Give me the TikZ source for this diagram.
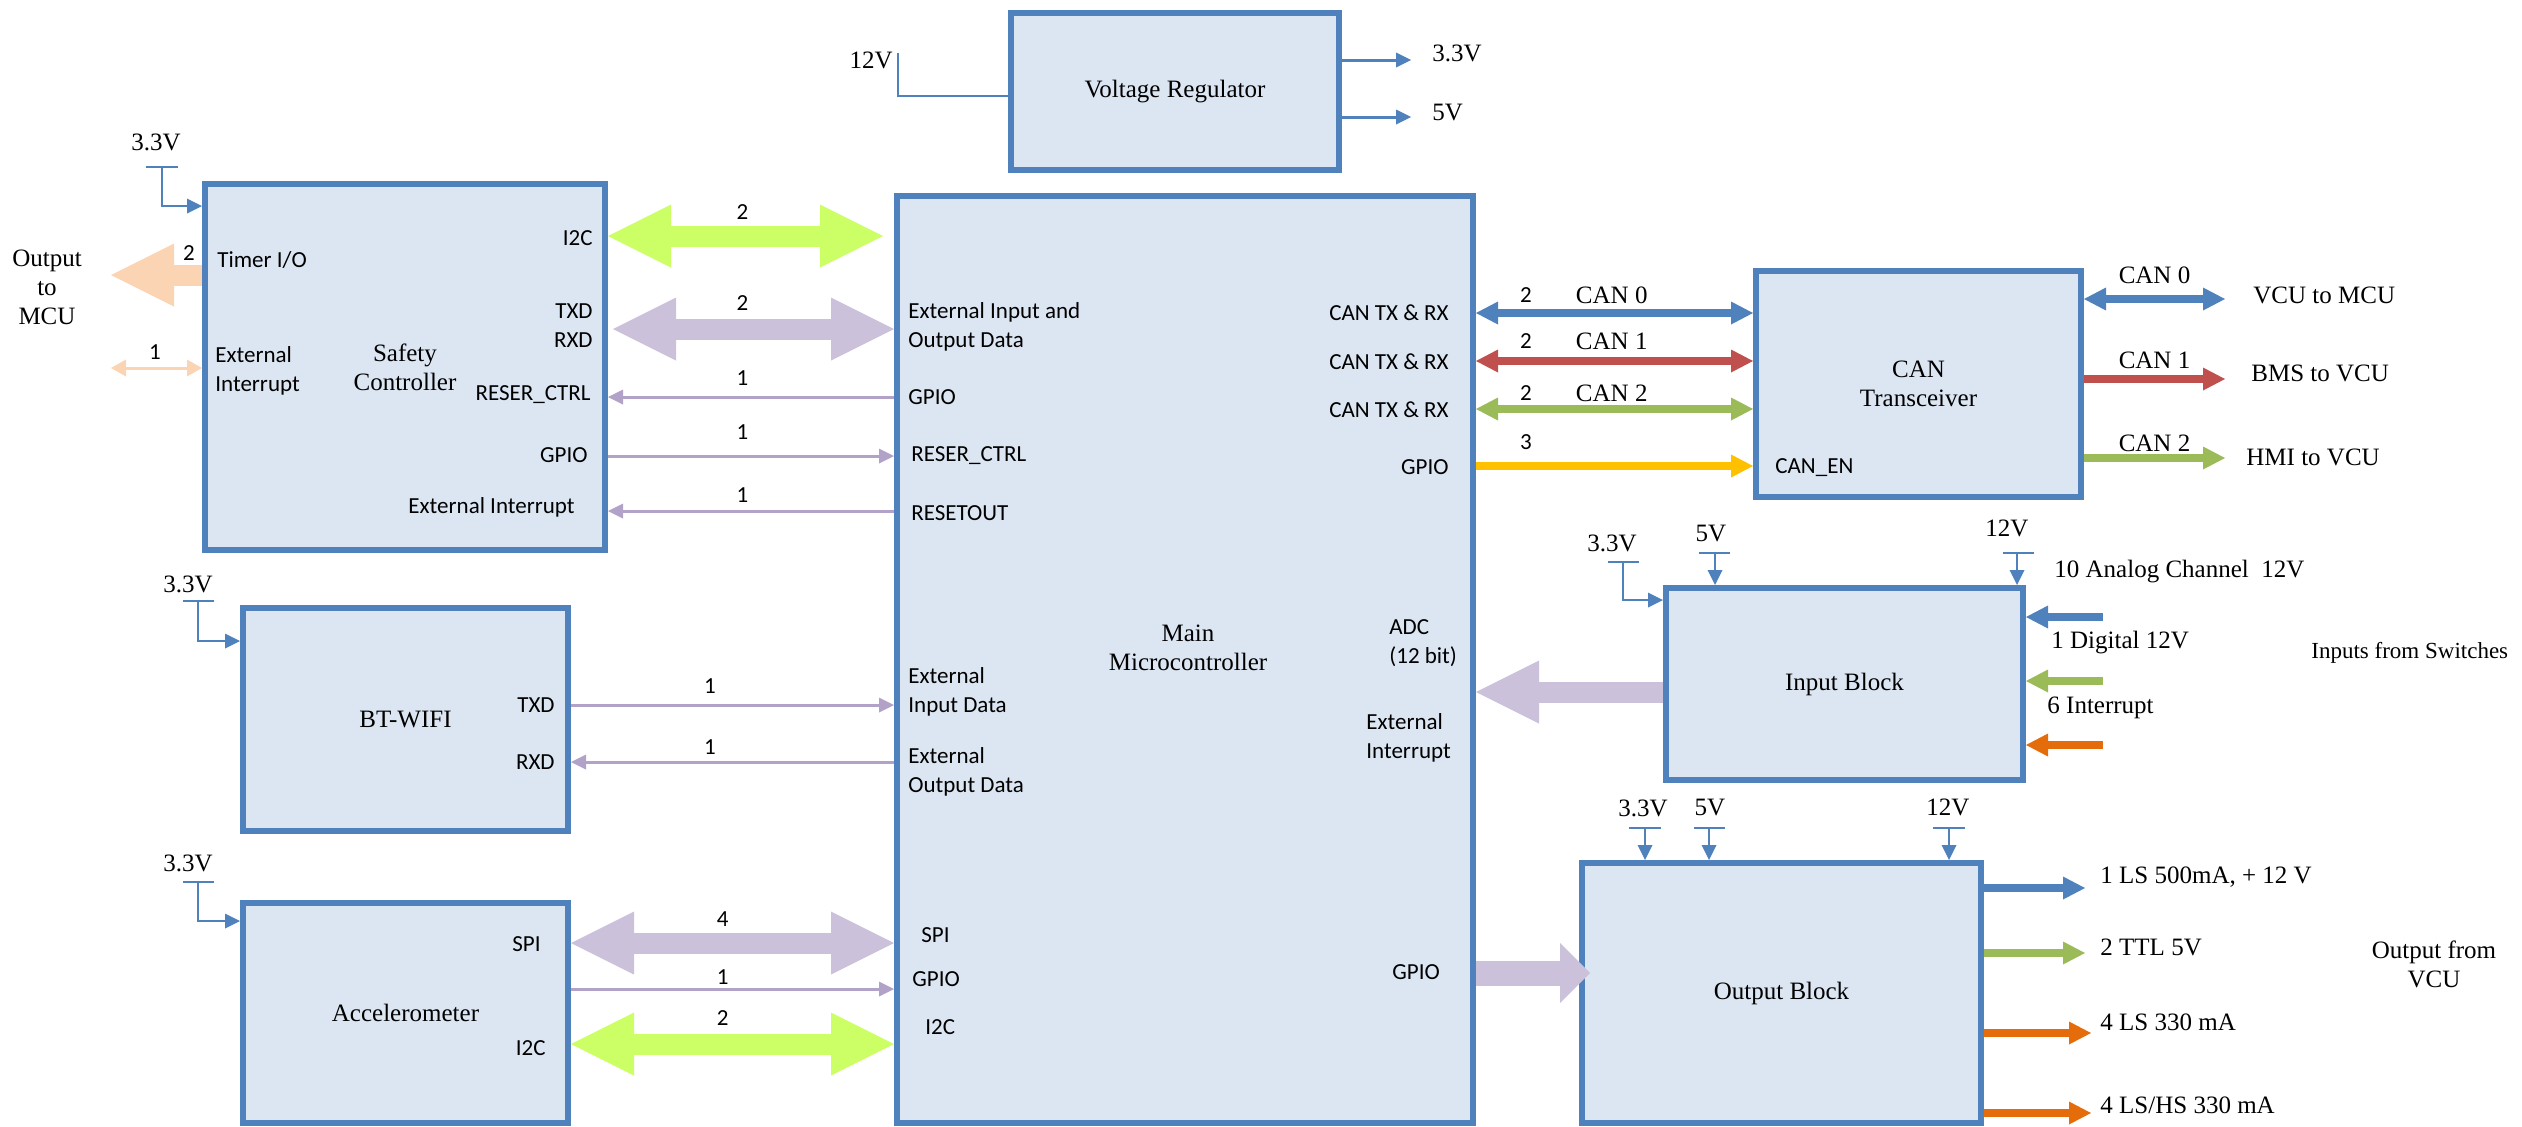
\documentclass[tikz,border=0pt]{standalone}
\usepackage{fontspec}
\setmainfont{Liberation Serif}
\newfontfamily\calfont{Carlito}
\usepackage{tikz}
\usetikzlibrary{arrows.meta,positioning,calc}
\definecolor{boxblue}{HTML}{4F81BD}
\definecolor{boxfill}{HTML}{DCE6F2}
\definecolor{lime}{HTML}{CCFF66}
\definecolor{lilac}{HTML}{CCC1DA}
\definecolor{lilacdark}{HTML}{B3A2C7}
\definecolor{peach}{HTML}{FBD4B4}
\definecolor{canred}{HTML}{C0504D}
\definecolor{cangreen}{HTML}{9BBB59}
\definecolor{amber}{HTML}{FFC000}
\definecolor{rust}{HTML}{E46C0A}
\newcommand\pinfnt{\calfont\fontsize{11.5}{14.5}\selectfont}
\newcommand\blkfnt{\fontsize{12.5}{14.5}\selectfont}
\tikzset{
  blk/.style={draw=boxblue,line width=3pt,fill=boxfill,inner sep=0pt,align=center,font=\blkfnt},
  pinlbl/.style={inner sep=0pt,font=\pinfnt},
  txt/.style={inner sep=0pt,font=\blkfnt,align=center},
  rail/.style={draw=boxblue,line width=1.2pt},
  feed/.style={rail,-{Triangle[length=7.5pt,width=7.5pt,line width=0pt]}},
  sig/.style={draw=lilacdark,line width=1.5pt,-{Triangle[length=7.5pt,width=7.5pt,line width=0pt]}},
  fat/.style={line width=10.5pt,-{Triangle[length=31.5pt,width=31.5pt,line width=0pt]}},
  fatboth/.style={line width=10.5pt,{Triangle[length=31.5pt,width=31.5pt,line width=0pt]}-{Triangle[length=31.5pt,width=31.5pt,line width=0pt]}},
  bus/.style={line width=3.75pt,-{Triangle[length=11pt,width=11.5pt,line width=0pt]}},
  busboth/.style={line width=3.75pt,{Triangle[length=11pt,width=11.5pt,line width=0pt]}-{Triangle[length=11pt,width=11.5pt,line width=0pt]}}
}
\begin{document}
\begin{tikzpicture}[x=0.5pt,y=-0.5pt]
  \useasboundingbox (0,0) rectangle (2522,1126);
  % blocks
  \node[blk,minimum width=164pt,minimum height=78.5pt] (vreg) at (1175,91.5) {Voltage Regulator};
  \node[blk,minimum width=200pt,minimum height=183pt] (safety) at (405,367) {Safety\\Controller};
  \node[blk,minimum width=288pt,minimum height=463.5pt] (mcu) at (1185,659.5) {};
  \node[txt] (mcutitle) at (1188,648) {Main\\Microcontroller};
  \node[blk,minimum width=162.5pt,minimum height=113pt] (can) at (1918.5,384) {CAN\\Transceiver};
  \node[blk,minimum width=178.5pt,minimum height=96pt] (inblk) at (1844.5,684) {Input Block};
  \node[blk,minimum width=199.5pt,minimum height=130pt] (outblk) at (1781.5,993) {Output Block};
  \node[blk,minimum width=162.5pt,minimum height=111.5pt] (btwifi) at (405.5,719.5) {BT-WIFI};
  \node[blk,minimum width=162.5pt,minimum height=110pt] (accel) at (405.5,1013) {Accelerometer};

  % voltage regulator
  \node[txt,anchor=east] (v12) at (893,60) {12V};
  \coordinate (vin) at (898,53);
  \draw[rail] (vin) |- (vreg.west |- 0,96);
  \coordinate (v33end) at (1411,60);
  \coordinate (v5end) at (1411,117);
  \draw[feed,line width=1.5pt] (vreg.east |- v33end) -- (v33end);
  \draw[feed,line width=1.5pt] (vreg.east |- v5end) -- (v5end);
  \node[txt,anchor=west] (v33) at (1432,53) {3.3V};
  \node[txt,anchor=west] (v5) at (1432,112) {5V};

  % safety controller
  \node[txt] (s33) at (156,142) {3.3V};
  \draw[rail] (146,167) -- (178,167);
  \draw[feed] (162,167) |- (safety.west |- 0,206);
  \node[pinlbl,anchor=west] (stimer) at (217,260) {Timer I/O};
  \node[pinlbl,anchor=west,align=left] (sextint) at (215,371) {External\\Interrupt};
  \node[pinlbl,anchor=east] (si2c) at (593,238) {I2C};
  \node[pinlbl,anchor=east,align=right] (suart) at (593,326) {TXD\\RXD};
  \node[pinlbl,anchor=east] (sreset) at (591,395) {RESER\_CTRL};
  \node[pinlbl,anchor=east] (sgpio) at (588,455) {GPIO};
  \node[pinlbl,anchor=east] (sextint2) at (575,507) {External Interrupt};
  \coordinate (tout) at (111,275);
  \draw[fat,draw=peach] (safety.west |- tout) -- (tout);
  \node[pinlbl] (ntimer) at (189,253) {2};
  \node[txt] (outmcu) at (47,287) {Output\\to\\MCU};
  \coordinate (eint) at (111,368);
  \draw[draw=peach,line width=1.5pt,{Triangle[length=7.5pt,width=8.5pt,line width=0pt]}-{Triangle[length=7.5pt,width=8.5pt,line width=0pt]}] (eint) -- (safety.west |- eint);
  \node[pinlbl] (neint) at (155,352) {1};

  % safety controller to main microcontroller
  \draw[fatboth,draw=lime,shorten >=5.5pt] (safety.east |- 0,236) -- node[pinlbl,pos=0.47,yshift=12pt] (ni2c) {2} (mcu.west |- 0,236);
  \draw[fatboth,draw=lilac,shorten <=2.5pt] (safety.east |- 0,329) -- node[pinlbl,pos=0.47,yshift=13pt] (nuart) {2} (mcu.west |- 0,329);
  \draw[sig] (mcu.west |- 0,397) -- node[pinlbl,pos=0.53,yshift=9.5pt] (nrst1) {1} (safety.east |- 0,397);
  \draw[sig] (safety.east |- 0,456) -- node[pinlbl,pos=0.47,yshift=12pt] (nrst2) {1} (mcu.west |- 0,456);
  \draw[sig] (mcu.west |- 0,511) -- node[pinlbl,pos=0.53,yshift=8pt] (nrst3) {1} (safety.east |- 0,511);

  % main microcontroller pins
  \node[pinlbl,anchor=west,align=left] (mext) at (908,327) {External Input and\\Output Data};
  \node[pinlbl,anchor=west] (mgpio1) at (908,397) {GPIO};
  \node[pinlbl,anchor=west] (mreset) at (911,456) {RESER\_CTRL};
  \node[pinlbl,anchor=west] (mresout) at (911,513) {RESETOUT};
  \node[pinlbl,anchor=west,align=left] (mextin) at (908,692) {External\\Input Data};
  \node[pinlbl,anchor=west,align=left] (mextout) at (908,772) {External\\Output Data};
  \node[pinlbl,anchor=west] (mspi) at (921,935) {SPI};
  \node[pinlbl,anchor=west] (mgpio2) at (912,979) {GPIO};
  \node[pinlbl,anchor=west] (mi2c) at (925,1027) {I2C};
  \node[pinlbl,anchor=east] (mcan0) at (1449,313) {CAN TX \& RX};
  \node[pinlbl,anchor=east] (mcan1) at (1449,362) {CAN TX \& RX};
  \node[pinlbl,anchor=east] (mcan2) at (1449,410) {CAN TX \& RX};
  \node[pinlbl,anchor=east] (mgpio3) at (1449,467) {GPIO};
  \node[pinlbl,anchor=west,align=left] (madc) at (1389,643) {ADC\\(12 bit)};
  \node[pinlbl,anchor=west,align=left] (mextint) at (1366,738) {External\\Interrupt};
  \node[pinlbl,anchor=west] (mgpio4) at (1392,972) {GPIO};

  % bt-wifi
  \node[txt] (b33) at (188,584) {3.3V};
  \draw[rail] (183,601) -- (214,601);
  \draw[feed] (198,601) |- (btwifi.west |- 0,641);
  \node[pinlbl,anchor=east] (btx) at (555,705) {TXD};
  \node[pinlbl,anchor=east] (brx) at (555,762) {RXD};
  \draw[sig] (btwifi.east |- btx) -- node[pinlbl,pos=0.43,yshift=9.5pt] (ntx) {1} (mcu.west |- btx);
  \draw[sig] (mcu.west |- brx) -- node[pinlbl,pos=0.57,yshift=7.5pt] (nrx) {1} (btwifi.east |- brx);

  % accelerometer
  \node[txt] (a33) at (188,863) {3.3V};
  \draw[rail] (183,882) -- (214,882);
  \draw[feed] (198,882) |- (accel.west |- 0,921);
  \node[pinlbl,anchor=east] (aspi) at (541,944) {SPI};
  \node[pinlbl,anchor=east] (ai2c) at (546,1048) {I2C};
  \draw[fatboth,draw=lilac] (accel.east |- 0,943) -- node[pinlbl,pos=0.47,yshift=12pt] (nspi) {4} (mcu.west |- 0,943);
  \draw[sig] (accel.east |- 0,989) -- node[pinlbl,pos=0.47,yshift=6pt] (nagpio) {1} (mcu.west |- 0,989);
  \draw[fatboth,draw=lime] (accel.east |- 0,1044) -- node[pinlbl,pos=0.47,yshift=13pt] (nai2c) {2} (mcu.west |- 0,1044);

  % can transceiver
  \draw[busboth,draw=boxblue] (mcu.east |- mcan0) -- node[pinlbl,pos=0.18,yshift=9pt] (nc0) {2} node[txt,pos=0.49,yshift=9pt] (lc0) {CAN 0} (can.west |- mcan0);
  \draw[busboth,draw=canred] (mcu.east |- 0,361) -- node[pinlbl,pos=0.18,yshift=10pt] (nc1) {2} node[txt,pos=0.49,yshift=10pt] (lc1) {CAN 1} (can.west |- 0,361);
  \draw[busboth,draw=cangreen] (mcu.east |- 0,409) -- node[pinlbl,pos=0.18,yshift=8pt] (nc2) {2} node[txt,pos=0.49,yshift=8pt] (lc2) {CAN 2} (can.west |- 0,409);
  \draw[bus,draw=amber] (mcu.east |- 0,466) -- node[pinlbl,pos=0.18,yshift=12pt] (nen) {3} (can.west |- 0,466);
  \node[pinlbl,anchor=west] (cen) at (1775,468) {CAN\_EN};
  \coordinate (c0end) at (2225,299);
  \coordinate (c1end) at (2225,379);
  \coordinate (c2end) at (2225,458);
  \draw[busboth,draw=boxblue] (can.east |- c0end) -- node[txt,midway,yshift=12pt] (rc0) {CAN 0} (c0end);
  \draw[bus,draw=canred] (can.east |- c1end) -- node[txt,midway,yshift=9.5pt] (rc1) {CAN 1} (c1end);
  \draw[bus,draw=cangreen] (can.east |- c2end) -- node[txt,midway,yshift=7.5pt] (rc2) {CAN 2} (c2end);
  \node[txt,anchor=west] (vcumcu) at (2253,295) {VCU to MCU};
  \node[txt,anchor=west] (bmsvcu) at (2251,373) {BMS to VCU};
  \node[txt,anchor=west] (hmivcu) at (2246,457) {HMI to VCU};

  % input block
  \node[txt] (i33) at (1612,543) {3.3V};
  \draw[rail] (1608,562) -- (1639,562);
  \draw[feed] (1623,562) |- (inblk.west |- 0,600);
  \node[txt] (i5) at (1711,533) {5V};
  \draw[rail] (1699,553) -- (1730,553);
  \draw[feed] (1715,553) -- (inblk.north -| 1715,553);
  \node[txt] (i12) at (2007,528) {12V};
  \draw[rail] (2003,553) -- (2034,553);
  \draw[feed] (2017,553) -- (inblk.north -| 2017,553);
  \node[txt,anchor=west] (ian) at (2054,572) {10 Analog Channel\ \ 12V};
  \coordinate (iblue) at (2103,617);
  \coordinate (igreen) at (2103,681);
  \coordinate (iorange) at (2103,745);
  \draw[bus,draw=boxblue] (iblue) -- (inblk.east |- iblue);
  \draw[bus,draw=cangreen] (igreen) -- (inblk.east |- igreen);
  \draw[bus,draw=rust] (iorange) -- (inblk.east |- iorange);
  \node[txt,anchor=west] (idig) at (2051,643) {1 Digital 12V};
  \node[txt,anchor=west] (iint) at (2047,708) {6 Interrupt};
  \node[txt,anchor=west,font=\fontsize{11.5}{14}\selectfont] (isw) at (2311,653) {Inputs from Switches};
  \draw[fat,draw=lilac] (inblk.west |- 0,692) -- (mcu.east |- 0,692);

  % output block
  \node[txt] (o33) at (1643,808) {3.3V};
  \draw[rail] (1629,828) -- (1661,828);
  \draw[feed] (1645,828) -- (outblk.north -| 1645,828);
  \node[txt] (o5) at (1710,807) {5V};
  \draw[rail] (1694,828) -- (1725,828);
  \draw[feed] (1709,828) -- (outblk.north -| 1709,828);
  \node[txt] (o12) at (1948,807) {12V};
  \draw[rail] (1933,828) -- (1965,828);
  \draw[feed] (1949,828) -- (outblk.north -| 1949,828);
  \draw[draw=lilac,line width=12.5pt,-{Triangle[length=15pt,width=30pt,line width=0pt]},shorten >=-5.5pt] (mcu.east |- 0,973) -- (outblk.west |- 0,973);
  \coordinate (oblue) at (2085,888);
  \coordinate (ogreen) at (2085,953);
  \coordinate (orust1) at (2091,1033);
  \coordinate (orust2) at (2091,1113);
  \draw[bus,draw=boxblue] (outblk.east |- oblue) -- (oblue);
  \draw[bus,draw=cangreen] (outblk.east |- ogreen) -- (ogreen);
  \draw[bus,draw=rust] (outblk.east |- orust1) -- (orust1);
  \draw[bus,draw=rust] (outblk.east |- orust2) -- (orust2);
  \node[txt,anchor=west] (ols) at (2100,877) {1 LS 500mA, + 12 V};
  \node[txt,anchor=west] (ottl) at (2100,947) {2 TTL 5V};
  \node[txt,anchor=west] (ols2) at (2100,1022) {4 LS 330 mA};
  \node[txt,anchor=west] (ohs) at (2100,1105) {4 LS/HS 330 mA};
  \node[txt] (ovcu) at (2434,964) {Output from\\VCU};
\end{tikzpicture}
\end{document}
